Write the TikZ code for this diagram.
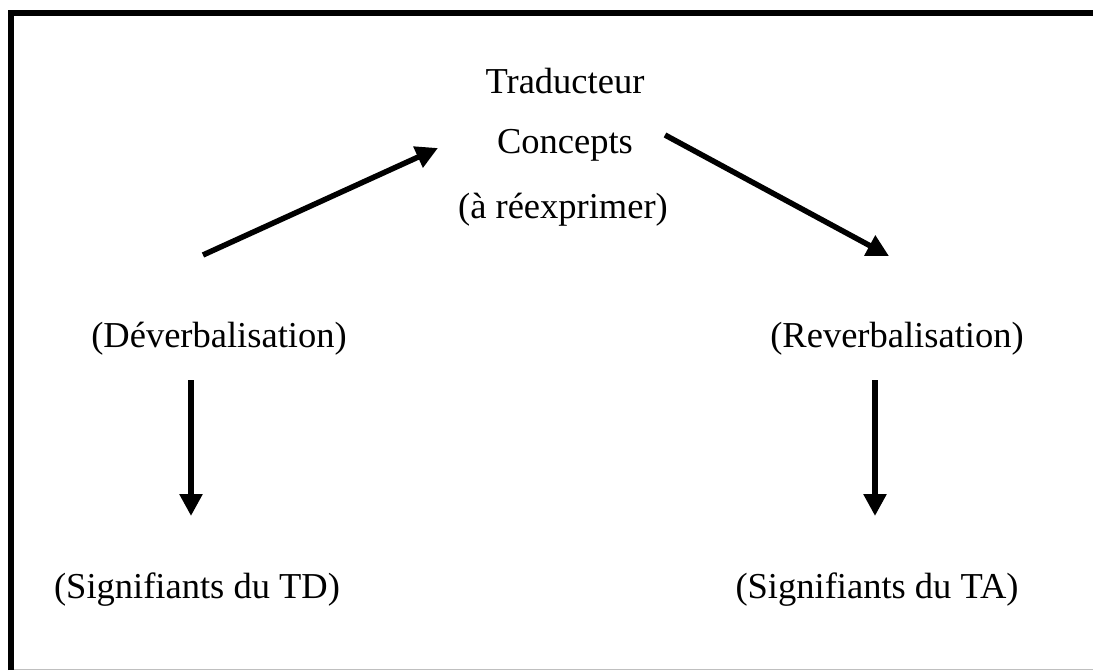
\documentclass[tikz,border=0pt]{standalone}
\usepackage{fontspec}
\setmainfont{Liberation Serif}
\usetikzlibrary{arrows.meta}
\begin{document}
\begin{tikzpicture}[x=1pt,y=-1pt,
  lbl/.style={anchor=base,inner sep=0pt,font=\fontsize{36.5}{40}\selectfont},
  arr/.style={line width=5.5pt,-{Triangle[length=22pt,width=22pt]}}]
\useasboundingbox (0,0) rectangle (1093,670);
\fill[white] (0,0) rectangle (1093,670);
% frame (left and top edges visible)
\draw[line width=6pt] (11,670) -- (11,12.5) -- (1093,12.5);
\draw[line width=1pt,black!25] (14,669) -- (1093,669);
% texts
\node[lbl] (trad) at (565,93) {Traducteur};
\node[lbl] (conc) at (565,153) {Concepts};
\node[lbl] (reex) at (563,218) {(à réexprimer)};
\node[lbl] (dever) at (219,347) {(Déverbalisation)};
\node[lbl] (rever) at (897,347) {(Reverbalisation)};
\node[lbl] (td) at (197,598) {(Signifiants du TD)};
\node[lbl] (ta) at (877,598) {(Signifiants du TA)};
% arrow endpoints
\coordinate (a1s) at (203,255);
\coordinate (a1e) at (438,148);
\coordinate (a2s) at (665,135);
\coordinate (a2e) at (889,256);
\coordinate (a3s) at (191,380);
\coordinate (a3e) at (191,516);
\coordinate (a4s) at (875,380);
\coordinate (a4e) at (875,516);
\draw[arr] (a1s) -- (a1e);
\draw[arr] (a2s) -- (a2e);
\draw[arr] (a3s) -- (a3e);
\draw[arr] (a4s) -- (a4e);
\end{tikzpicture}
\end{document}
